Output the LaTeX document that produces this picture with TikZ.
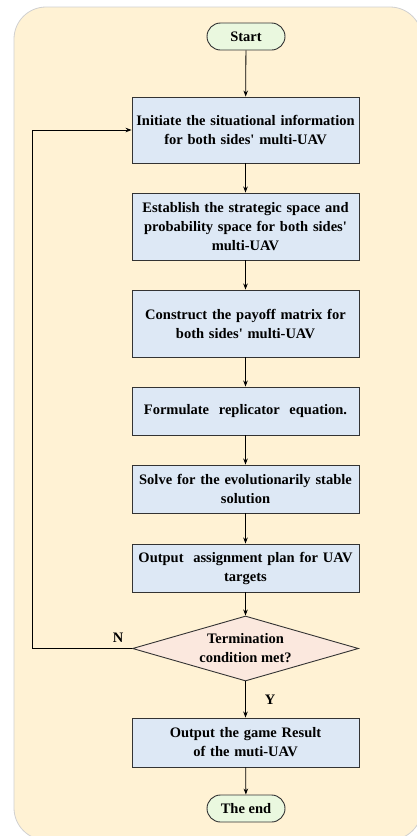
\documentclass[tikz,border=0pt]{standalone}
\usepackage{fontspec}
\setmainfont{Liberation Serif}[Ligatures=TeXOff]
\usetikzlibrary{shapes.geometric,arrows.meta}
\definecolor{bgfill}{HTML}{FFF2D4}
\definecolor{bgline}{HTML}{D0D0D0}
\definecolor{boxfill}{HTML}{DDE8F5}
\definecolor{boxline}{HTML}{333333}
\definecolor{termfill}{HTML}{EAF8DF}
\definecolor{decfill}{HTML}{FBE8DE}
\begin{document}
\begin{tikzpicture}[x=1pt,y=-1pt,
  every node/.style={font=\bfseries\fontsize{14.5}{19}\selectfont, text=black},
  stepbox/.style={draw=boxline, fill=boxfill, line width=0.9pt, minimum width=227pt, text width=222pt, align=center, inner sep=0pt, anchor=center},
  term/.style={draw=boxline, fill=termfill, line width=0.9pt, rounded corners=13.5pt, minimum width=78pt, minimum height=27pt, inner sep=0pt},
  conn/.style={draw=black, line width=0.8pt, -{Stealth[length=6pt,width=4.5pt]}},
  lbl/.style={inner sep=0pt}]
\useasboundingbox (0,0) rectangle (417,836);
\draw[fill=bgfill, draw=bgline, line width=0.8pt, rounded corners=32pt] (14,7) rectangle (422,840);
\node[term] (start) at (246,36.5) {Start};
\node[stepbox, minimum height=66pt] (b1) at (245.5,130) {Initiate the situational information\\ for both sides' multi-UAV};
\node[stepbox, minimum height=67pt] (b2) at (245.5,226.5) {Establish the strategic space and\\ probability space for both sides'\\ multi-UAV};
\node[stepbox, minimum height=67pt] (b3) at (245.5,323.5) {Construct the payoff matrix for\\ both sides' multi-UAV};
\node[stepbox, minimum height=48pt] (b4) at (245.5,411) {Formulate~ replicator~ equation.};
\node[stepbox, minimum height=48pt] (b5) at (245.5,489) {Solve for the evolutionarily stable\\ solution};
\node[stepbox, minimum height=48pt] (b6) at (245.5,568) {Output~ assignment plan for UAV\\ targets};
\node[diamond, draw=boxline, fill=decfill, line width=0.9pt, aspect=3.48, minimum width=226pt, minimum height=65pt, inner sep=0pt, align=center] (dec) at (245.5,648.5) {Termination\\ condition met?};
\node[stepbox, minimum height=49pt] (b7) at (245.5,742.5) {Output the game Result\\ of the muti-UAV};
\node[term] (end) at (246,808.5) {The end};
\coordinate (lb) at (32,648.5);
\coordinate (lt) at (32,130);
\draw[conn] (start) -- (b1);
\draw[conn] (b1) -- (b2);
\draw[conn] (b2) -- (b3);
\draw[conn] (b3) -- (b4);
\draw[conn] (b4) -- (b5);
\draw[conn] (b5) -- (b6);
\draw[conn] (b6) -- (dec);
\draw[conn] (dec) -- (b7);
\draw[conn] (b7) -- (end);
\draw[conn] (dec.west) -- (lb) -- (lt) -- (b1.west);
\node[lbl] (nl) at (118,638) {N};
\node[lbl] (yl) at (270,700) {Y};
\end{tikzpicture}
\end{document}
